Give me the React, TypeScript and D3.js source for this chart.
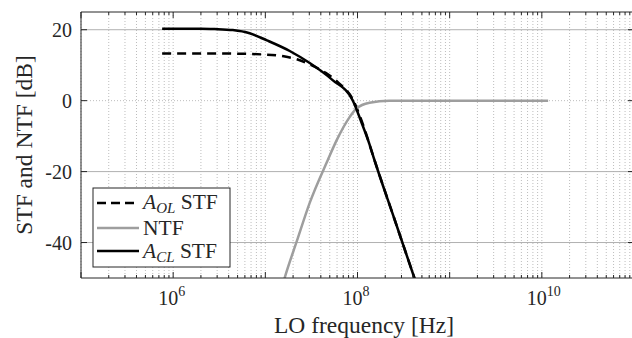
import React from "react";
import * as d3 from "d3";

// ---- data ----
const xTickExps = [6, 8, 10];
const yTicks = [20, 0, -20, -40];

const aolFreq = [7.59e5, 3.16e6, 1.0e7, 1.58e7, 2.24e7, 3.16e7, 4.47e7, 6.31e7, 8.83e7, 1.1e8, 1.53e8, 2.51e8, 4.27e8];
const aolDb = [13.3, 13.3, 13.0, 12.5, 11.6, 10.0, 7.9, 4.9, 0.5, -5.4, -16.8, -33.3, -51];

const aclFreq = [7.59e5, 2.0e6, 2.82e6, 4.44e6, 6.76e6, 1.04e7, 1.84e7, 3.03e7, 5.37e7, 8.83e7, 1.1e8, 1.35e8, 1.53e8, 2.51e8, 4.27e8];
const aclDb = [20.3, 20.3, 20.2, 19.9, 19.0, 17.0, 14.0, 10.6, 5.8, 0.2, -6.0, -12.3, -16.8, -33.3, -51];

const ntfFreq = [1.4e7, 1.62e7, 2.19e7, 3.03e7, 4.75e7, 5.93e7, 8.18e7, 9.75e7, 1.35e8, 2.22e8, 1.17e10];
const ntfDb = [-56, -50, -39.7, -28.8, -16.8, -11.2, -4.7, -2.2, -0.6, -0.05, 0];

const W = 632;
const H = 338;
const left = 81;
const right = 634;
const top = 12;
const bottom = 278;
const FONT = "'Liberation Serif', 'Times New Roman', serif";
const AX = "#262626";

export default function App() {
  const x = d3.scaleLog().domain([1e5, 1e11]).range([left, right]);
  const y = d3.scaleLinear().domain([-50, 25]).range([bottom, top]);

  const line = d3
    .line<[number, number]>()
    .x((d) => x(d[0]))
    .y((d) => y(d[1]))
    .curve(d3.curveMonotoneX);

  const zip = (a: number[], b: number[]) => a.map((v, i) => [v, b[i]] as [number, number]);

  const minor: number[] = [];
  for (let e = 5; e <= 10; e++) for (let m = 1; m <= 9; m++) minor.push(m * Math.pow(10, e));
  minor.push(1e11);
  const majors = d3.range(5, 12).map((e) => Math.pow(10, e));

  return (
    <svg width={W} height={H} style={{ position: "absolute", left: 0, top: 0, background: "#fff" }} fontFamily={FONT}>
      <defs>
        <clipPath id="plotclip">
          <rect x={left} y={top} width={right - left} height={bottom - top} />
        </clipPath>
      </defs>
      <rect x={0} y={0} width={W} height={H} fill="#fff" />
      {/* vertical dotted grid */}
      {minor.map((f, i) => (
        <line key={"vg" + i} x1={x(f)} x2={x(f)} y1={top} y2={bottom} stroke="#bdbdbd" strokeWidth={1} strokeDasharray="1,2" />
      ))}
      {/* horizontal grid */}
      {yTicks.map((t) => (
        <line
          key={"hg" + t}
          x1={left}
          x2={right}
          y1={y(t)}
          y2={y(t)}
          stroke={t === 0 ? "#bdbdbd" : "#b0b0b0"}
          strokeWidth={1}
          strokeDasharray={t === 0 ? "1,2" : undefined}
        />
      ))}
      <g clipPath="url(#plotclip)" fill="none">
        <path d={line(zip(aolFreq, aolDb)) || ""} stroke="#000" strokeWidth={2.5} strokeDasharray="9,6" />
        <path d={line(zip(ntfFreq, ntfDb)) || ""} stroke="#9e9e9e" strokeWidth={2.5} />
        <path d={line(zip(aclFreq, aclDb)) || ""} stroke="#000" strokeWidth={2.5} />
      </g>
      {/* axes box */}
      <line x1={left} x2={right} y1={top} y2={top} stroke={AX} strokeWidth={1} />
      <line x1={left} x2={right} y1={bottom} y2={bottom} stroke={AX} strokeWidth={1} />
      <line x1={left} x2={left} y1={top} y2={bottom} stroke={AX} strokeWidth={1} />
      <line x1={right} x2={right} y1={top} y2={bottom} stroke={AX} strokeWidth={1} />
      {/* x ticks */}
      {minor.map((f, i) => {
        const isMajor = majors.some((m) => Math.abs(m - f) / m < 1e-9);
        const len = isMajor ? 6 : 3;
        return (
          <g key={"xt" + i}>
            <line x1={x(f)} x2={x(f)} y1={bottom} y2={bottom - len} stroke={AX} strokeWidth={1} />
            <line x1={x(f)} x2={x(f)} y1={top} y2={top + len} stroke={AX} strokeWidth={1} />
          </g>
        );
      })}
      {/* y ticks */}
      {yTicks.map((t) => (
        <g key={"yt" + t}>
          <line x1={left} x2={left + 6} y1={y(t)} y2={y(t)} stroke={AX} strokeWidth={1} />
          <line x1={right} x2={right - 6} y1={y(t)} y2={y(t)} stroke={AX} strokeWidth={1} />
          <text x={left - 9} y={y(t) + 7} textAnchor="end" fontSize={20} fill={AX}>
            {t}
          </text>
        </g>
      ))}
      {/* x tick labels */}
      {xTickExps.map((e) => (
        <text key={"xl" + e} x={x(Math.pow(10, e)) - 15} y={305} fontSize={20} fill={AX}>
          10
          <tspan dy={-9} fontSize={14}>
            {e}
          </tspan>
        </text>
      ))}
      {/* axis labels */}
      <text x={364} y={333} textAnchor="middle" fontSize={23.5} fill={AX}>
        LO frequency [Hz]
      </text>
      <text transform={`translate(32,${(top + bottom) / 2}) rotate(-90)`} textAnchor="middle" fontSize={23.5} fill={AX}>
        STF and NTF [dB]
      </text>
      {/* legend */}
      <g>
        <rect x={93} y={188} width={137} height={79} fill="#fff" stroke={AX} strokeWidth={1} />
        <line x1={97} x2={139} y1={203} y2={203} stroke="#000" strokeWidth={2.5} strokeDasharray="9,5" />
        <line x1={97} x2={139} y1={228} y2={228} stroke="#9e9e9e" strokeWidth={2.5} />
        <line x1={97} x2={139} y1={251} y2={251} stroke="#000" strokeWidth={2.5} />
        <text x={143} y={209} fontSize={21.5} fill={AX}>
          <tspan fontStyle="italic">A</tspan>
          <tspan fontStyle="italic" fontSize={15} dy={4}>
            OL
          </tspan>
          <tspan dy={-4}> STF</tspan>
        </text>
        <text x={143} y={235} fontSize={21.5} fill={AX}>
          NTF
        </text>
        <text x={143} y={258} fontSize={21.5} fill={AX}>
          <tspan fontStyle="italic">A</tspan>
          <tspan fontStyle="italic" fontSize={15} dy={4}>
            CL
          </tspan>
          <tspan dy={-4}> STF</tspan>
        </text>
      </g>
    </svg>
  );
}
